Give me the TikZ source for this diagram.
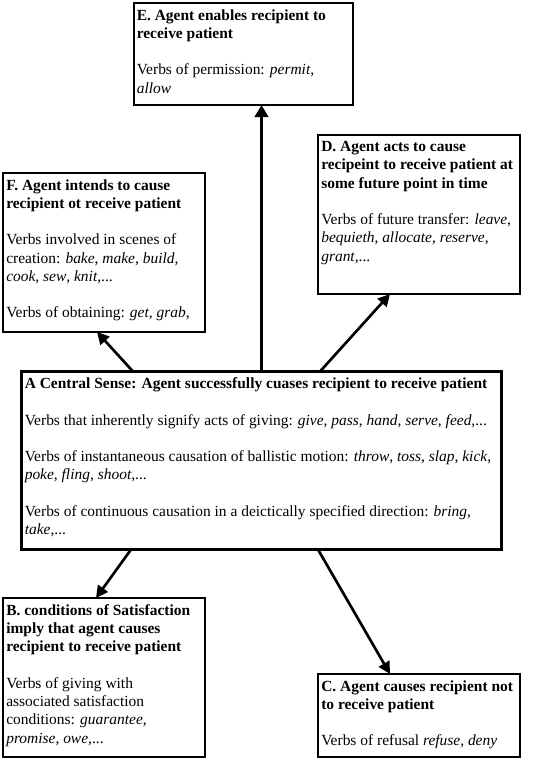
\documentclass[tikz,border=0pt]{standalone}
\usepackage{fontspec}
\setmainfont{Liberation Serif}
\usetikzlibrary{arrows.meta}
\begin{document}
\begin{tikzpicture}[x=0.75pt,y=-0.75pt,
  box/.style={draw, line width=1.5pt, anchor=north west, inner sep=0pt, outer sep=0pt},
  bigbox/.style={box, line width=2.25pt},
  txt/.style={anchor=north west, inner sep=0pt, align=left, font=\fontsize{11.6pt}{13.7pt}\selectfont},
  arr/.style={-{Triangle[length=9pt,width=9pt]}, line width=2pt},
  bigarr/.style={-{Triangle[length=9pt,width=10pt]}, line width=2.25pt}]
\useasboundingbox (0,0) rectangle (533,760);
% boxes
\node[box, minimum width=164.25pt, minimum height=76.5pt] (E) at (134,3) {};
\node[box, minimum width=151.5pt, minimum height=119.25pt] (D) at (318,135) {};
\node[box, minimum width=151.5pt, minimum height=119.25pt] (F) at (3,173) {};
\node[bigbox, minimum width=360pt, minimum height=133.5pt] (A) at (21.5,371.5) {};
\node[box, minimum width=151.5pt, minimum height=119.25pt] (B) at (3,598) {};
\node[box, minimum width=151.5pt, minimum height=62.25pt] (C) at (318,674) {};
% texts
\node[txt] (Et) at ([shift={(2.5,6)}]E.north west) {\textbf{E. Agent enables recipient to}\\
\textbf{receive patient}\\[13.7pt]
Verbs of permission: \textit{permit},\\
\textit{allow}};
\node[txt] (Dt) at ([shift={(3,6)}]D.north west) {\textbf{D. Agent acts to cause}\\
\textbf{recipeint to receive patient at}\\
\textbf{some future point in time}\\[13.7pt]
Verbs of future transfer: \textit{leave},\\
\textit{bequieth}, \textit{allocate}, \textit{reserve},\\
\textit{grant},...};
\node[txt] (Ft) at ([shift={(3,6)}]F.north west) {\textbf{F. Agent intends to cause}\\
\textbf{recipient ot receive patient}\\[13.7pt]
Verbs involved in scenes of\\
creation: \textit{bake}, \textit{make}, \textit{build},\\
\textit{cook}, \textit{sew}, \textit{knit},...\\[13.7pt]
Verbs of obtaining: \textit{get}, \textit{grab},};
\node[txt] (At) at ([shift={(3,6)}]A.north west) {\textbf{A Central Sense: Agent successfully cuases recipient to receive patient}\\[13.7pt]
Verbs that inherently signify acts of giving: \textit{give}, \textit{pass}, \textit{hand}, \textit{serve}, \textit{feed},...\\[13.7pt]
Verbs of instantaneous causation of ballistic motion: \textit{throw}, \textit{toss}, \textit{slap}, \textit{kick},\\
\textit{poke}, \textit{fling}, \textit{shoot},...\\[13.7pt]
Verbs of continuous causation in a deictically specified direction: \textit{bring},\\
\textit{take},...};
\node[txt] (Bt) at ([shift={(3,6)}]B.north west) {\textbf{B. conditions of Satisfaction}\\
\textbf{imply that agent causes}\\
\textbf{recipient to receive patient}\\[13.7pt]
Verbs of giving with\\
associated satisfaction\\
conditions: \textit{guarantee},\\
\textit{promise}, \textit{owe},...};
\node[txt] (Ct) at ([shift={(3,6)}]C.north west) {\textbf{C. Agent causes recipient not}\\
\textbf{to receive patient}\\[13.7pt]
Verbs of refusal \textit{refuse}, \textit{deny}};
% connectors
\draw[bigarr] (A.north) -- (A.north |- E.south);
\draw[arr] ([shift={(111.5,0)}]A.north west) -- ([shift={(-7,0)}]F.south);
\draw[arr] ([shift={(298.5,0)}]A.north west) -- ([shift={(-29,0)}]D.south);
\draw[arr] ([shift={(109.5,0)}]A.south west) -- ([shift={(-8,0)}]B.north);
\draw[arr] ([shift={(296.5,0)}]A.south west) -- ([shift={(-29,0)}]C.north);
\end{tikzpicture}
\end{document}
